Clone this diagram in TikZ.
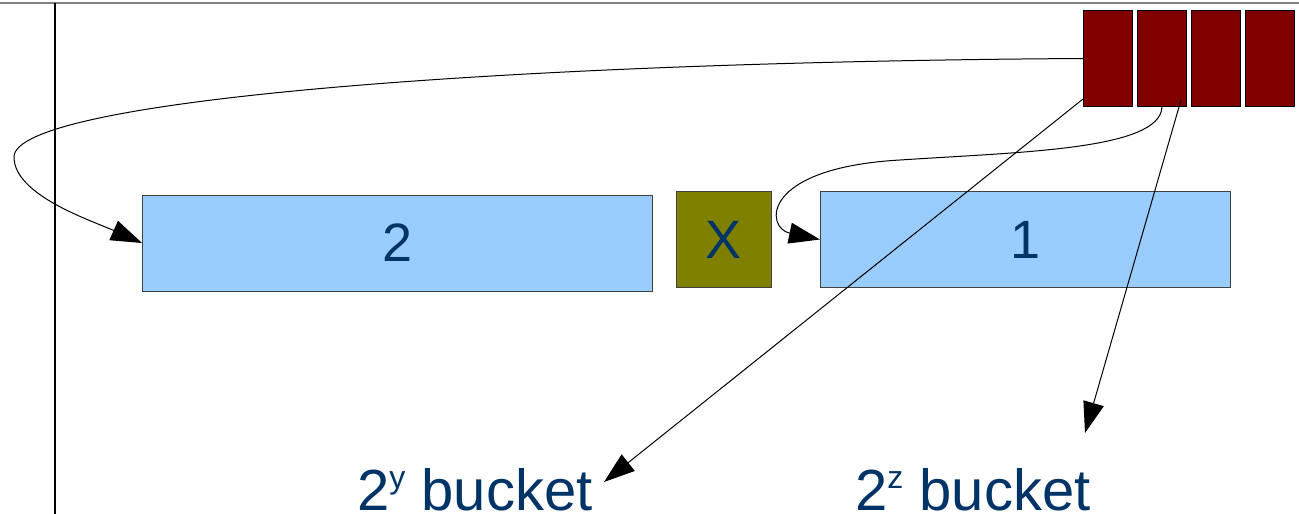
\documentclass[tikz,border=0pt]{standalone}
\usepackage{fontspec}
\setmainfont{Liberation Sans}
\usepackage{xcolor}
\usetikzlibrary{positioning,arrows.meta}

\definecolor{slotred}{HTML}{800000}
\definecolor{chunkblue}{HTML}{99CCFF}
\definecolor{markolive}{HTML}{808000}
\definecolor{inkblue}{HTML}{003366}

\begin{document}
\begin{tikzpicture}[x=1pt, y=-1pt, ->, >={Triangle[length=31pt,width=21pt]}, node distance=4pt, slot/.style = {rectangle, draw=black, line width=1pt, fill=slotred, minimum width=49pt, minimum height=96pt, inner sep=0pt}, chunk/.style = {rectangle, draw=black!75, line width=1pt, fill=chunkblue, minimum height=96pt, inner sep=0pt, text=inkblue, font=\fontsize{54}{60}\selectfont}, marker/.style = {chunk, fill=markolive, minimum width=95pt, minimum height=96pt}, buckettext/.style = {inner sep=0pt, text=inkblue, font=\fontsize{58}{64}\selectfont}]

\useasboundingbox (0,0) rectangle (1299,514);

% frame lines
\draw[-, draw=gray, line width=2pt] (0,3) -- (1299,3);
\draw[-, line width=1.2pt] (55,3) -- (55,514);

% hash slots
\node[slot, anchor=north west] (r1) at (1083,10) {};
\node[slot] (r2) [right=of r1] {};
\node[slot] (r3) [right=of r2] {};
\node[slot] (r4) [right=of r3] {};

% chain
\node[chunk, minimum width=510pt, anchor=west] (b2) at (142,243) {2};
\node[marker] (xb) [right=23pt of b2, yshift=3.5pt] {X};
\node[chunk, minimum width=410pt] (b1) [right=48pt of xb] {1};

\node[buckettext, anchor=base west] (ybucket) at (357,510) {2\raisebox{22pt}{\fontsize{32}{32}\selectfont y} bucket};
\node[buckettext, anchor=base west] (zbucket) at (855,510) {2\raisebox{22pt}{\fontsize{32}{32}\selectfont z} bucket};
\coordinate (ytip) at (604,482);
\coordinate (ztip) at (1085,433);

\draw[line width=1pt] (r1.west) .. controls (500,62) and (14,100) .. (14,157)
    .. controls (14,195) and (90,220) .. (b2.west);
\draw[line width=1pt] (r2.south) .. controls (1160,150) and (1020,152) .. (900,160)
    .. controls (760,168) and (765,228) .. (b1.west);
\draw[line width=1pt] ([yshift=8pt]r1.south west) -- (ytip);
\draw[line width=1pt] ([xshift=-6pt,yshift=7pt]r2.south east) -- (ztip);
\end{tikzpicture}
\end{document}
